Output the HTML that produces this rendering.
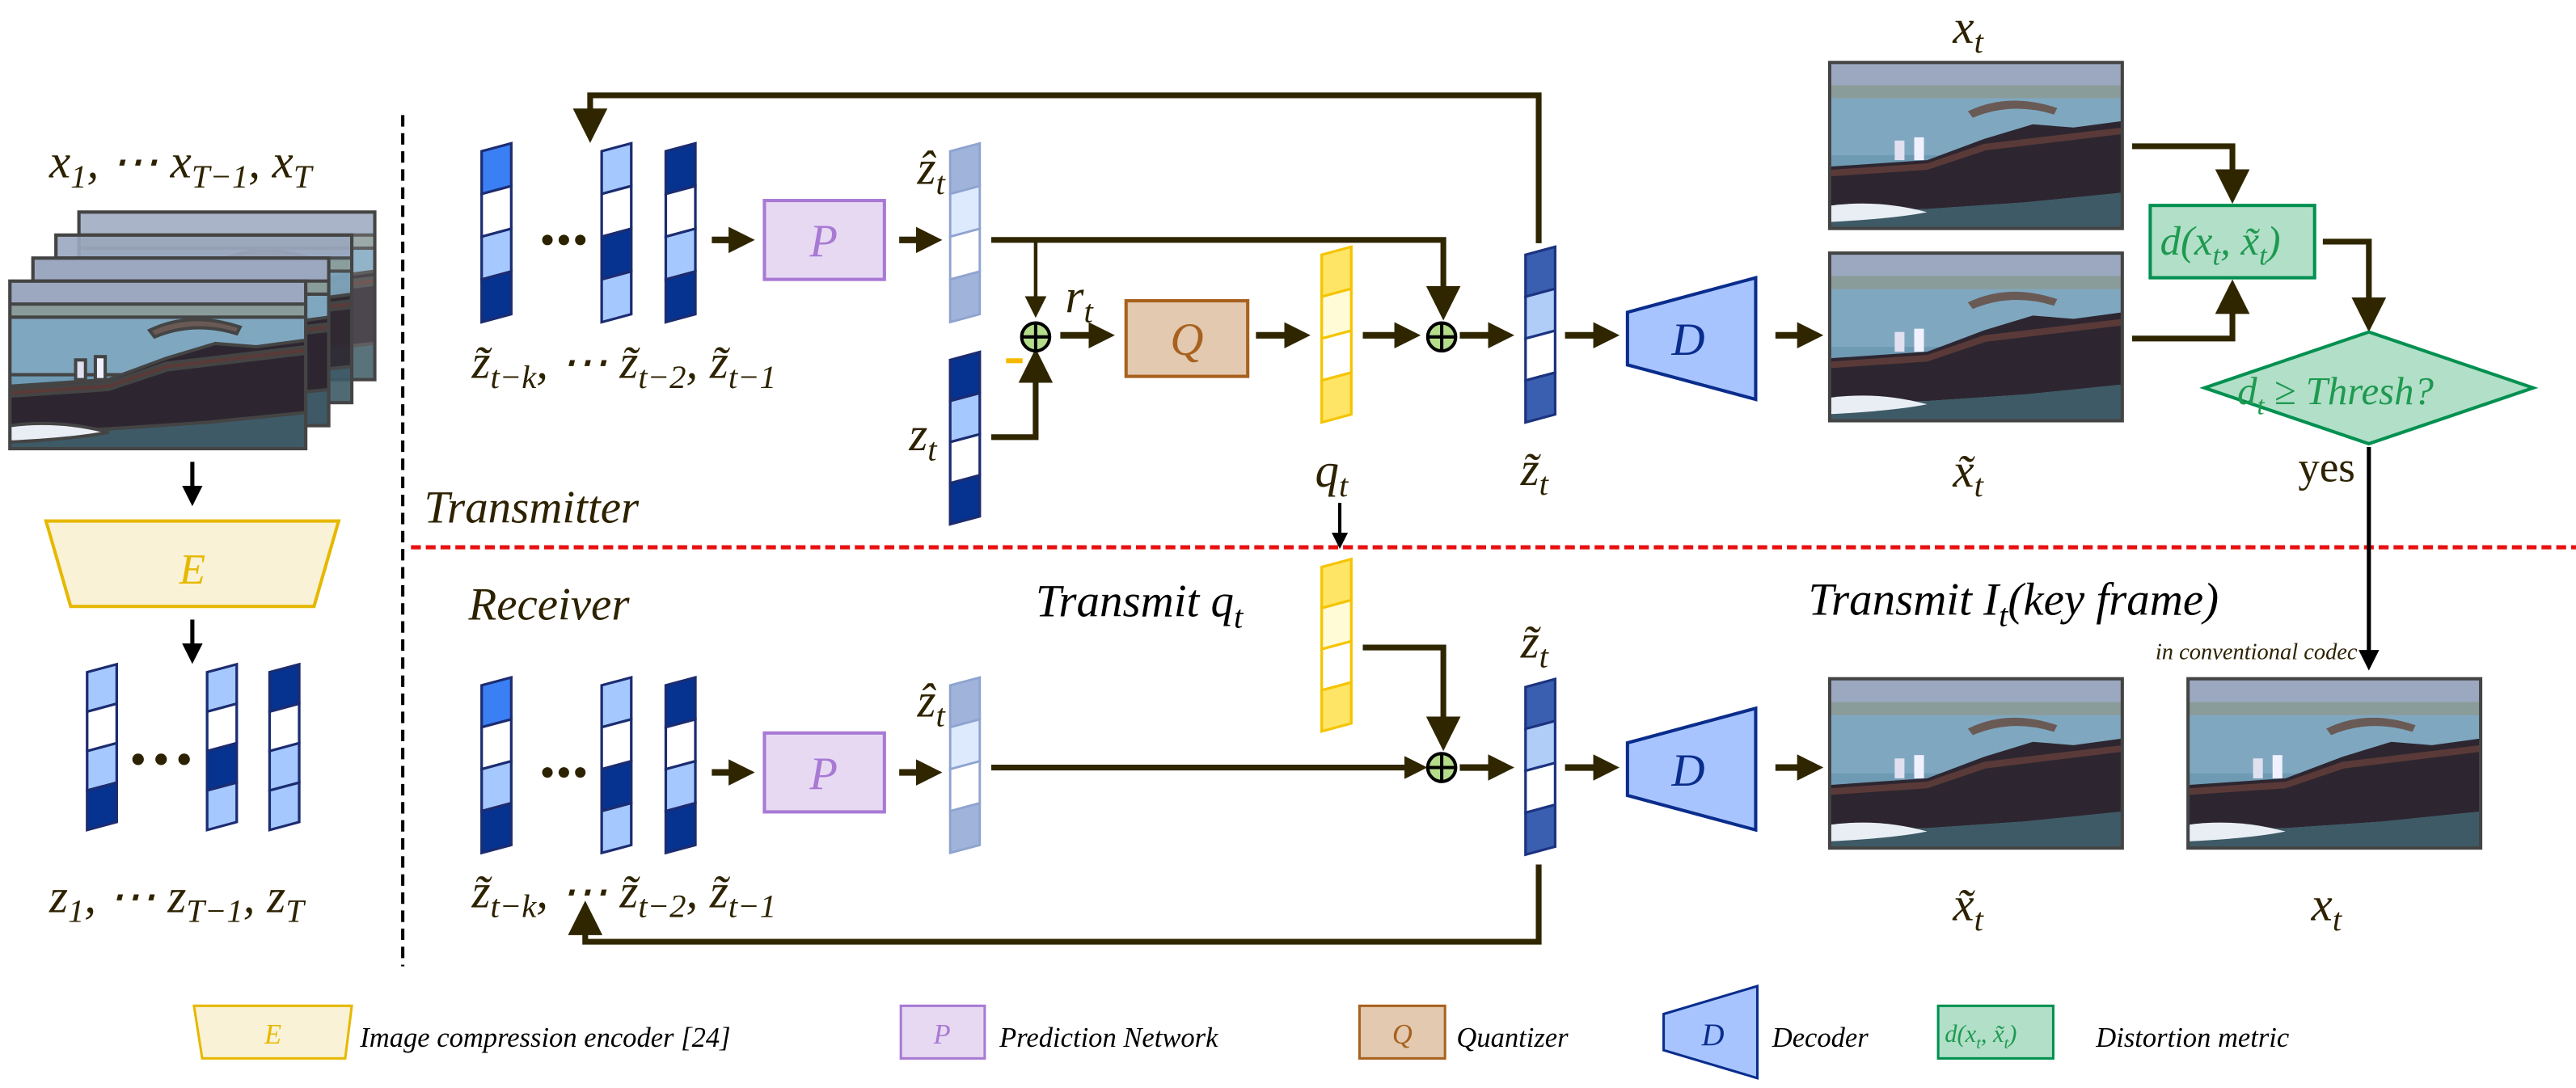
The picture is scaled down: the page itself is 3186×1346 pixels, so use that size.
<!DOCTYPE html>
<html><head><meta charset="utf-8">
<style>
html,body{margin:0;padding:0;background:#fff;}
svg{display:block;}
text{font-family:"Liberation Serif","DejaVu Serif",serif;font-style:italic;fill:#2d2200;}
.m{font-size:29px;}
.s{font-size:20px;}
.lg{font-size:17px;fill:#000;}
</style></head>
<body>
<svg width="3186" height="1346" viewBox="0 0 1567 662" xmlns="http://www.w3.org/2000/svg">
<defs>
<marker id="ah" markerWidth="4" markerHeight="4" refX="2.2" refY="2" orient="auto" markerUnits="strokeWidth">
<path d="M0,0 L4,2 L0,4 Z" fill="#2f2600"/></marker>
<marker id="ahb" markerWidth="5" markerHeight="5" refX="3" refY="2.5" orient="auto" markerUnits="strokeWidth">
<path d="M0,0 L5,2.5 L0,5 Z" fill="#000"/></marker>
<marker id="aht" markerWidth="6" markerHeight="6" refX="4" refY="3" orient="auto" markerUnits="strokeWidth">
<path d="M0,0 L6,3 L0,6 Z" fill="#2f2600"/></marker>
<symbol id="boat" viewBox="0 0 180 102" preserveAspectRatio="none">
<rect width="180" height="102" fill="#6e9ab4"/>
<rect width="180" height="22" fill="#9ba8bf"/>
<rect y="14" width="180" height="8" fill="#8a9c9a"/>
<rect y="22" width="180" height="35" fill="#7fa8c0"/>
<path d="M85,30 Q110,18 140,28 L138,32 Q112,24 88,34 Z" fill="#6a5a55"/>
<path d="M0,64 L60,60 L95,47 L125,38 L150,40 L180,36 L180,80 L120,86 L60,90 L0,92 Z" fill="#2d2630"/>
<path d="M0,66 L60,62 L95,50 L180,40 L180,44 L96,54 L60,66 L0,70 Z" fill="#5a3a38"/>
<rect x="40" y="48" width="6" height="12" fill="#e0e0f0"/>
<rect x="52" y="46" width="6" height="14" fill="#f0f0ff"/>
<path d="M0,92 L60,90 L120,86 L180,80 L180,102 L0,102 Z" fill="#3e5a66"/>
<path d="M0,88 Q30,84 60,92 Q40,96 0,98 Z" fill="#e8eef4"/>
</symbol>
</defs>

<!-- left stack -->
<text class="m" x="30" y="108">x<tspan class="s" dy="6">1</tspan><tspan dy="-6">, ⋯ x</tspan><tspan class="s" dy="6">T−1</tspan><tspan dy="-6">, x</tspan><tspan class="s" dy="6">T</tspan></text>
<g stroke="#444" stroke-width="2">
<use href="#boat" x="48" y="129" width="180" height="102" opacity="0.85"/><rect x="48" y="129" width="180" height="102" fill="none"/>
<use href="#boat" x="34" y="143" width="180" height="102" opacity="0.9"/><rect x="34" y="143" width="180" height="102" fill="none"/>
<use href="#boat" x="20" y="157" width="180" height="102"/><rect x="20" y="157" width="180" height="102" fill="none"/>
<use href="#boat" x="6" y="171" width="180" height="102"/><rect x="6" y="171" width="180" height="102" fill="none"/>
</g>
<line x1="117" y1="281" x2="117" y2="303" stroke="#000" stroke-width="2.5" marker-end="url(#ahb)"/>
<path d="M28,317 L206,317 L191,369 L43,369 Z" fill="#faf2d6" stroke="#e6b800" stroke-width="2"/>
<text x="117" y="355" font-size="26" text-anchor="middle" style="fill:#e6b800">E</text>
<line x1="117" y1="377" x2="117" y2="399" stroke="#000" stroke-width="2.5" marker-end="url(#ahb)"/>
<g stroke="#1c2c70" stroke-width="1.6">
<g transform="translate(53,409) skewY(-15)"><rect width="18" height="24" fill="#a5c8ff"/><rect y="24" width="18" height="24" fill="#fff"/><rect y="48" width="18" height="24" fill="#a5c8ff"/><rect y="72" width="18" height="24" fill="#063290"/></g>
<g transform="translate(126,409) skewY(-15)"><rect width="18" height="24" fill="#a5c8ff"/><rect y="24" width="18" height="24" fill="#fff"/><rect y="48" width="18" height="24" fill="#063290"/><rect y="72" width="18" height="24" fill="#a5c8ff"/></g>
<g transform="translate(164,409) skewY(-15)"><rect width="18" height="24" fill="#063290"/><rect y="24" width="18" height="24" fill="#fff"/><rect y="48" width="18" height="24" fill="#a5c8ff"/><rect y="72" width="18" height="24" fill="#a5c8ff"/></g>
</g>
<g fill="#2d2200"><circle cx="84" cy="462" r="3.5"/><circle cx="98" cy="462" r="3.5"/><circle cx="112" cy="462" r="3.5"/></g>
<text class="m" x="30" y="555">z<tspan class="s" dy="6">1</tspan><tspan dy="-6">, ⋯ z</tspan><tspan class="s" dy="6">T−1</tspan><tspan dy="-6">, z</tspan><tspan class="s" dy="6">T</tspan></text>

<line x1="245" y1="70" x2="245" y2="588" stroke="#000" stroke-width="2" stroke-dasharray="7,4"/>
<line x1="250" y1="333" x2="1567" y2="333" stroke="#e81010" stroke-width="2.5" stroke-dasharray="6,3"/>

<!-- TRANSMITTER -->
<g stroke="#1c2c70" stroke-width="1.6">
<g transform="translate(293,92) skewY(-15)"><rect width="18" height="26" fill="#3b7ff5"/><rect y="26" width="18" height="26" fill="#fff"/><rect y="52" width="18" height="26" fill="#a5c8ff"/><rect y="78" width="18" height="26" fill="#063290"/></g>
<g transform="translate(366,92) skewY(-15)"><rect width="18" height="26" fill="#a5c8ff"/><rect y="26" width="18" height="26" fill="#fff"/><rect y="52" width="18" height="26" fill="#063290"/><rect y="78" width="18" height="26" fill="#a5c8ff"/></g>
<g transform="translate(405,92) skewY(-15)"><rect width="18" height="26" fill="#063290"/><rect y="26" width="18" height="26" fill="#fff"/><rect y="52" width="18" height="26" fill="#a5c8ff"/><rect y="78" width="18" height="26" fill="#063290"/></g>
</g>
<g fill="#2d2200"><circle cx="333" cy="146" r="3.2"/><circle cx="343" cy="146" r="3.2"/><circle cx="353" cy="146" r="3.2"/></g>
<text class="m" x="287" y="230">z̃<tspan class="s" dy="6">t−k</tspan><tspan dy="-6">, ⋯ z̃</tspan><tspan class="s" dy="6">t−2</tspan><tspan dy="-6">, z̃</tspan><tspan class="s" dy="6">t−1</tspan></text>
<g stroke="#2f2600" stroke-width="4" fill="none">
<line x1="433" y1="146" x2="452" y2="146" marker-end="url(#ah)"/>
<line x1="547" y1="146" x2="566" y2="146" marker-end="url(#ah)"/>
</g>
<rect x="465" y="122" width="73" height="48" fill="#e8d9f3" stroke="#a87ad4" stroke-width="2"/>
<text x="501" y="156" font-size="28" text-anchor="middle" style="fill:#a87ad4">P</text>
<text class="m" x="558" y="112">ẑ<tspan class="s" dy="6">t</tspan></text>
<g stroke="#8fa3d0" stroke-width="1.4">
<g transform="translate(578,92) skewY(-15)"><rect width="18" height="26" fill="#a0b3da"/><rect y="26" width="18" height="26" fill="#dde9fd"/><rect y="52" width="18" height="26" fill="#fff"/><rect y="78" width="18" height="26" fill="#a0b3da"/></g>
</g>
<g stroke="#1c2c70" stroke-width="1.6">
<g transform="translate(578,219) skewY(-15)"><rect width="18" height="25" fill="#063290"/><rect y="25" width="18" height="25" fill="#a5c8ff"/><rect y="50" width="18" height="25" fill="#fff"/><rect y="75" width="18" height="25" fill="#063290"/></g>
</g>
<text class="m" x="553" y="274">z<tspan class="s" dy="6">t</tspan></text>
<g stroke="#2f2600" stroke-width="3.5" fill="none">
<polyline points="603,146 878,146 878,188" stroke-width="3.5" marker-end="url(#aht)"/>
<polyline points="630,146 630,189" stroke-width="2.2" marker-end="url(#aht)"/>
<polyline points="603,266 630,266 630,219" stroke-width="3.5" marker-end="url(#aht)"/>
<line x1="645" y1="204" x2="671" y2="204" stroke-width="4" marker-end="url(#ah)"/>
<line x1="764" y1="204" x2="790" y2="204" stroke-width="4" marker-end="url(#ah)"/>
<line x1="829" y1="204" x2="857" y2="204" stroke-width="4" marker-end="url(#ah)"/>
<line x1="888" y1="204" x2="914" y2="204" stroke-width="4" marker-end="url(#ah)"/>
<line x1="952" y1="204" x2="978" y2="204" stroke-width="4" marker-end="url(#ah)"/>
<line x1="1080" y1="204" x2="1102" y2="204" stroke-width="4" marker-end="url(#ah)"/>
<polyline points="936,148 936,58 359,58 359,80" stroke-width="3.5" marker-end="url(#aht)"/>
</g>
<g stroke="#000" stroke-width="2"><circle cx="630" cy="205" r="8.5" fill="#b5dc8a"/><line x1="621.5" y1="205" x2="638.5" y2="205"/><line x1="630" y1="196.5" x2="630" y2="213.5"/></g>
<rect x="612" y="218" width="10" height="3" fill="#f5b800"/>
<text class="m" x="648" y="190">r<tspan class="s" dy="6">t</tspan></text>
<rect x="685" y="183" width="74" height="46" fill="#e2c9b0" stroke="#a8611e" stroke-width="2"/>
<text x="722" y="216" font-size="28" text-anchor="middle" style="fill:#a8611e">Q</text>
<g stroke="#f5c400" stroke-width="1.6">
<g transform="translate(804,155) skewY(-15)"><rect width="18" height="25.5" fill="#ffe566"/><rect y="25.5" width="18" height="25.5" fill="#fffbd6"/><rect y="51" width="18" height="25.5" fill="#fff"/><rect y="76.5" width="18" height="25.5" fill="#ffe566"/></g>
</g>
<text class="m" x="800" y="296">q<tspan class="s" dy="6">t</tspan></text>
<g stroke="#000" stroke-width="2"><circle cx="877" cy="205" r="8.5" fill="#b5dc8a"/><line x1="868.5" y1="205" x2="885.5" y2="205"/><line x1="877" y1="196.5" x2="877" y2="213.5"/></g>
<g stroke="#1c3380" stroke-width="1.6">
<g transform="translate(928,155) skewY(-15)"><rect width="18" height="25.5" fill="#3a5fb0"/><rect y="25.5" width="18" height="25.5" fill="#b0cdf8"/><rect y="51" width="18" height="25.5" fill="#fff"/><rect y="76.5" width="18" height="25.5" fill="#3a5fb0"/></g>
</g>
<text class="m" x="925" y="295">z̃<tspan class="s" dy="6">t</tspan></text>
<path d="M990,190 L1068,169 L1068,243 L990,222 Z" fill="#a8c4ff" stroke="#0a2d8c" stroke-width="2"/>
<text x="1027" y="216" font-size="28" text-anchor="middle" style="fill:#0a2d8c">D</text>
<text class="m" x="1188" y="26">x<tspan class="s" dy="6">t</tspan></text>
<use href="#boat" x="1113" y="38" width="178" height="101"/><rect x="1113" y="38" width="178" height="101" fill="none" stroke="#444" stroke-width="2"/>
<use href="#boat" x="1113" y="154" width="178" height="102"/><rect x="1113" y="154" width="178" height="102" fill="none" stroke="#444" stroke-width="2"/>
<text class="m" x="1188" y="296">x̃<tspan class="s" dy="6">t</tspan></text>
<g stroke="#2f2600" stroke-width="3.5" fill="none">
<polyline points="1297,89 1358,89 1358,117" marker-end="url(#aht)"/>
<polyline points="1297,206 1358,206 1358,177" marker-end="url(#aht)"/>
<polyline points="1413,147 1441,147 1441,195" marker-end="url(#aht)"/>
</g>
<rect x="1308" y="125" width="100" height="44" fill="#b2dfc8" stroke="#009050" stroke-width="2"/>
<text x="1314" y="155" font-size="25" style="fill:#1e9a50">d(x<tspan font-size="17" dy="6">t</tspan><tspan dy="-6">, x̃</tspan><tspan font-size="17" dy="6">t</tspan><tspan dy="-6">)</tspan></text>
<path d="M1441,202 L1541,236 L1441,270 L1341,236 Z" fill="#b2dfc8" stroke="#009050" stroke-width="2"/>
<text x="1361" y="246" font-size="24" style="fill:#1e9a50">d<tspan font-size="16" dy="6">t</tspan><tspan dy="-6"> ≥ Thresh?</tspan></text>
<text x="1398" y="293" font-size="26" style="font-style:normal">yes</text>
<line x1="1441" y1="272" x2="1441" y2="403" stroke="#000" stroke-width="2.5" marker-end="url(#ahb)"/>

<text x="258" y="318" font-size="28">Transmitter</text>

<!-- RECEIVER -->
<text x="285" y="377" font-size="28">Receiver</text>
<line x1="815" y1="306" x2="815" y2="330" stroke="#000" stroke-width="2" marker-end="url(#ahb)"/>
<text x="630" y="375" font-size="28" style="fill:#000">Transmit q<tspan class="s" dy="7">t</tspan></text>
<g stroke="#f5c400" stroke-width="1.6">
<g transform="translate(804,345) skewY(-15)"><rect width="18" height="25" fill="#ffe566"/><rect y="25" width="18" height="25" fill="#fffbd6"/><rect y="50" width="18" height="25" fill="#fff"/><rect y="75" width="18" height="25" fill="#ffe566"/></g>
</g>
<g stroke="#1c2c70" stroke-width="1.6">
<g transform="translate(293,417) skewY(-15)"><rect width="18" height="25.5" fill="#3b7ff5"/><rect y="25.5" width="18" height="25.5" fill="#fff"/><rect y="51" width="18" height="25.5" fill="#a5c8ff"/><rect y="76.5" width="18" height="25.5" fill="#063290"/></g>
<g transform="translate(366,417) skewY(-15)"><rect width="18" height="25.5" fill="#a5c8ff"/><rect y="25.5" width="18" height="25.5" fill="#fff"/><rect y="51" width="18" height="25.5" fill="#063290"/><rect y="76.5" width="18" height="25.5" fill="#a5c8ff"/></g>
<g transform="translate(405,417) skewY(-15)"><rect width="18" height="25.5" fill="#063290"/><rect y="25.5" width="18" height="25.5" fill="#fff"/><rect y="51" width="18" height="25.5" fill="#a5c8ff"/><rect y="76.5" width="18" height="25.5" fill="#063290"/></g>
</g>
<g fill="#2d2200"><circle cx="333" cy="470" r="3.2"/><circle cx="343" cy="470" r="3.2"/><circle cx="353" cy="470" r="3.2"/></g>
<text class="m" x="287" y="552">z̃<tspan class="s" dy="6">t−k</tspan><tspan dy="-6">, ⋯ z̃</tspan><tspan class="s" dy="6">t−2</tspan><tspan dy="-6">, z̃</tspan><tspan class="s" dy="6">t−1</tspan></text>
<rect x="465" y="446" width="73" height="48" fill="#e8d9f3" stroke="#a87ad4" stroke-width="2"/>
<text x="501" y="480" font-size="28" text-anchor="middle" style="fill:#a87ad4">P</text>
<text class="m" x="558" y="436">ẑ<tspan class="s" dy="6">t</tspan></text>
<g stroke="#8fa3d0" stroke-width="1.4">
<g transform="translate(578,417) skewY(-15)"><rect width="18" height="25.5" fill="#a0b3da"/><rect y="25.5" width="18" height="25.5" fill="#dde9fd"/><rect y="51" width="18" height="25.5" fill="#fff"/><rect y="76.5" width="18" height="25.5" fill="#a0b3da"/></g>
</g>
<g stroke="#2f2600" stroke-width="4" fill="none">
<line x1="433" y1="470" x2="452" y2="470" marker-end="url(#ah)"/>
<line x1="547" y1="470" x2="566" y2="470" marker-end="url(#ah)"/>
<line x1="603" y1="467" x2="862" y2="467" stroke-width="3.5" marker-end="url(#ah)"/>
<line x1="888" y1="467" x2="914" y2="467" marker-end="url(#ah)"/>
<line x1="952" y1="467" x2="978" y2="467" marker-end="url(#ah)"/>
<line x1="1080" y1="467" x2="1102" y2="467" marker-end="url(#ah)"/>
<polyline points="829,394 878,394 878,450" stroke-width="3.5" marker-end="url(#aht)"/>
<polyline points="936,526 936,573 356,573 356,555" stroke-width="3.5" marker-end="url(#aht)"/>
</g>
<g stroke="#000" stroke-width="2"><circle cx="877" cy="467" r="8.5" fill="#b5dc8a"/><line x1="868.5" y1="467" x2="885.5" y2="467"/><line x1="877" y1="458.5" x2="877" y2="475.5"/></g>
<g stroke="#1c3380" stroke-width="1.6">
<g transform="translate(928,418) skewY(-15)"><rect width="18" height="25.5" fill="#3a5fb0"/><rect y="25.5" width="18" height="25.5" fill="#b0cdf8"/><rect y="51" width="18" height="25.5" fill="#fff"/><rect y="76.5" width="18" height="25.5" fill="#3a5fb0"/></g>
</g>
<text class="m" x="925" y="400">z̃<tspan class="s" dy="6">t</tspan></text>
<path d="M990,452 L1068,431 L1068,505 L990,484 Z" fill="#a8c4ff" stroke="#0a2d8c" stroke-width="2"/>
<text x="1027" y="478" font-size="28" text-anchor="middle" style="fill:#0a2d8c">D</text>
<use href="#boat" x="1113" y="413" width="178" height="103"/><rect x="1113" y="413" width="178" height="103" fill="none" stroke="#444" stroke-width="2"/>
<text class="m" x="1188" y="560">x̃<tspan class="s" dy="6">t</tspan></text>
<text x="1100" y="374" font-size="28" style="fill:#000">Transmit I<tspan class="s" dy="7">t</tspan><tspan dy="-7">(key frame)</tspan></text>
<text x="1434" y="401" font-size="14" text-anchor="end">in conventional codec</text>
<use href="#boat" x="1331" y="413" width="178" height="103"/><rect x="1331" y="413" width="178" height="103" fill="none" stroke="#444" stroke-width="2"/>
<text class="m" x="1406" y="560">x<tspan class="s" dy="6">t</tspan></text>

<!-- LEGEND -->
<path d="M118,612 L214,612 L210,644 L123,644 Z" fill="#faf2d6" stroke="#e6b800" stroke-width="1.5"/>
<text x="166" y="635" font-size="17" text-anchor="middle" style="fill:#e6b800">E</text>
<text class="lg" x="219" y="637">Image compression encoder [24]</text>
<rect x="548" y="612" width="51" height="32" fill="#e8d9f3" stroke="#a87ad4" stroke-width="1.5"/>
<text x="573" y="635" font-size="17" text-anchor="middle" style="fill:#a87ad4">P</text>
<text class="lg" x="608" y="637">Prediction Network</text>
<rect x="827" y="612" width="52" height="32" fill="#e2c9b0" stroke="#a8611e" stroke-width="1.5"/>
<text x="853" y="635" font-size="17" text-anchor="middle" style="fill:#a8611e">Q</text>
<text class="lg" x="886" y="637">Quantizer</text>
<path d="M1012,617 L1069,600 L1069,656 L1012,639 Z" fill="#a8c4ff" stroke="#0a2d8c" stroke-width="1.5"/>
<text x="1042" y="636" font-size="19" text-anchor="middle" style="fill:#0a2d8c">D</text>
<text class="lg" x="1078" y="637">Decoder</text>
<rect x="1179" y="612" width="70" height="32" fill="#b2dfc8" stroke="#009050" stroke-width="1.5"/>
<text x="1183" y="634" font-size="15" style="fill:#1e9a50">d(x<tspan font-size="10" dy="4">t</tspan><tspan dy="-4">, x̃</tspan><tspan font-size="10" dy="4">t</tspan><tspan dy="-4">)</tspan></text>
<text class="lg" x="1275" y="637">Distortion metric</text>
</svg>
</body></html>
